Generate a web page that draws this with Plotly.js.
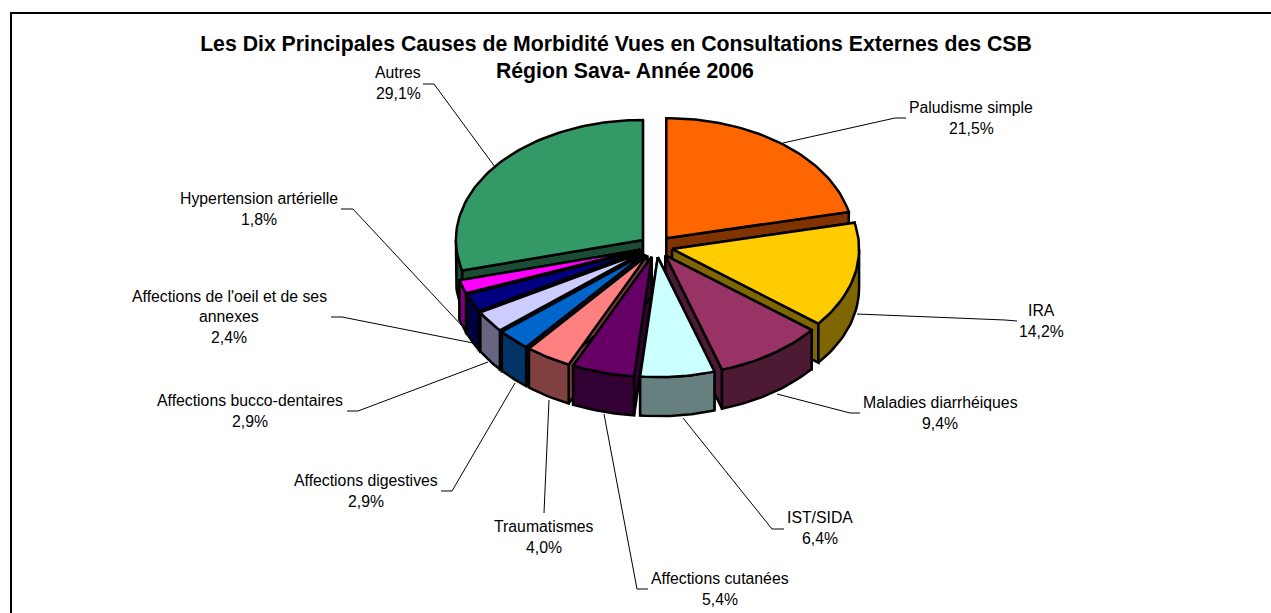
<!DOCTYPE html>
<html>
<head>
<meta charset="utf-8">
<script src="https://cdn.plot.ly/plotly-3.0.1.min.js"></script>
<style>html,body{margin:0;padding:0;background:#fff}#chart{width:1271px;height:613px}</style>
</head>
<body>
<div id="chart"></div>
<script>
// Data
const titleLine1 = "Les Dix Principales Causes de Morbidité Vues en Consultations Externes des CSB";
const titleLine2 = "\u00a0\u00a0\u00a0Région Sava- Année 2006";
const categories = ["Paludisme simple","IRA","Maladies diarrhéiques","IST/SIDA","Affections cutanées","Traumatismes","Affections digestives","Affections bucco-dentaires","Affections de l'oeil et de ses|annexes","Hypertension artérielle","Autres"];
const values = [21.5,14.2,9.4,6.4,5.4,4.0,2.9,2.9,2.4,1.8,29.1];
const topColors = ["#FF6600","#FFCC00","#993366","#CCFFFF","#660066","#FF8080","#0066CC","#CCCCFF","#000080","#FF00FF","#339966"];
const sideColors = ["#803300","#806600","#4D1A33","#668080","#330033","#804040","#003366","#666680","#000040","#800080","#1A4D33"];

// Label placement (centre x, first-line y), and leader-line paths, per category
const labelX = [971,1041,940,820,720,544,365.5,250,229,259,398];
const labelY = [107.5,310,402,517,578,526,480,400,296,198,72];
const leaders = [
  [[906,118],[895,118],[783,143]],
  [[1017,321],[1005,320],[857,314]],
  [[860,413],[850,413],[777,394]],
  [[784,529],[772,529],[683,418]],
  [[648,589],[637,589],[604,414]],
  [[544,513],[549,400]],
  [[441,491],[452,491],[515,383]],
  [[347,411],[358,411],[488,362]],
  [[331,317],[342,317],[473,343]],
  [[341,209],[353,209],[463,327]],
  [[423,84],[434,84],[495,167]]
];

// Projection of the tilted exploded pie
const cx=656, cy=246.5, Rx=187, Ry=120, popX=16.5, popY=10.7, depth=39;
const FONT="Liberation Sans, Arial, sans-serif";
const rad=d=>d*Math.PI/180;
const total=values.reduce((a,b)=>a+b,0);

let cum=0;
const slices=values.map((v,i)=>{
  const a0=cum/total*360; cum+=v; const a1=cum/total*360; const mid=(a0+a1)/2;
  return {i,a0,a1,mid,ox:cx+popX*Math.sin(rad(mid)),oy:cy-popY*Math.cos(rad(mid))};
});
function rim(s,a,dz){return [s.ox+Rx*Math.sin(rad(a)), s.oy-Ry*Math.cos(rad(a))+dz];}
function arc(s,a0,a1,dz){
  const n=Math.max(2,Math.ceil((a1-a0)/1.5)),pts=[];
  for(let k=0;k<=n;k++)pts.push(rim(s,a0+(a1-a0)*k/n,dz));
  return pts;
}
function poly(pts,color,name){
  const closed=pts.concat([pts[0]]);
  return {type:"scatter",mode:"lines",x:closed.map(p=>p[0]),y:closed.map(p=>p[1]),
    fill:"toself",fillcolor:color,line:{color:"#000",width:2.5,shape:"linear"},
    hoverinfo:"skip",showlegend:false,name:name,cliponaxis:false};
}
const traces=[];
slices.slice().sort((p,q)=>Math.cos(rad(q.mid))-Math.cos(rad(p.mid))).forEach(s=>{
  const side=sideColors[s.i], nm=categories[s.i].replace("|"," ");
  const apex=[s.ox,s.oy], apexB=[s.ox,s.oy+depth];
  [s.a0,s.a1].forEach(a=>traces.push(poly([apex,rim(s,a,0),rim(s,a,depth),apexB],side,nm)));
  const w0=Math.max(s.a0,90), w1=Math.min(s.a1,270);
  if(w1>w0) traces.push(poly(arc(s,w0,w1,0).concat(arc(s,w0,w1,depth).reverse()),side,nm));
  traces.push(poly([apex].concat(arc(s,s.a0,s.a1,0)),topColors[s.i],nm));
});

const LINE=21;
const annotations=[];
categories.forEach((c,i)=>{
  const lines=c.split("|").concat([values[i].toFixed(1).replace(".",",")+"%"]);
  lines.forEach((t,k)=>annotations.push({text:t,x:labelX[i],y:labelY[i]+k*LINE-(i===8&&k>0?0.5:0),xref:"x",yref:"y",
    showarrow:false,xanchor:"center",yanchor:"middle",font:{family:FONT,size:15.8,color:"#000"}}));
});
const shapes=leaders.map(l=>({type:"path",layer:"below",xref:"x",yref:"y",
  path:l.map((p,k)=>(k?"L":"M")+p[0]+","+p[1]).join(" "),line:{color:"#000",width:1}}));
shapes.push({type:"path",layer:"below",xref:"x",yref:"y",path:"M11,613 L11,13 L1271,13",line:{color:"#000",width:2}});

Plotly.newPlot("chart",traces,{
  width:1271,height:613,paper_bgcolor:"#fff",plot_bgcolor:"#fff",showlegend:false,
  margin:{l:0,r:0,t:0,b:0},
  xaxis:{range:[0,1271],visible:false,fixedrange:true},
  yaxis:{range:[613,0],visible:false,fixedrange:true},
  title:{text:titleLine1+"<br>"+titleLine2,x:616/1271,xanchor:"center",xref:"paper",y:1-50.5/613,yref:"container",yanchor:"middle",
    font:{family:FONT,size:21.25,color:"#000",weight:700}},
  shapes,annotations
},{staticPlot:true,displayModeBar:false});
</script>
</body>
</html>
